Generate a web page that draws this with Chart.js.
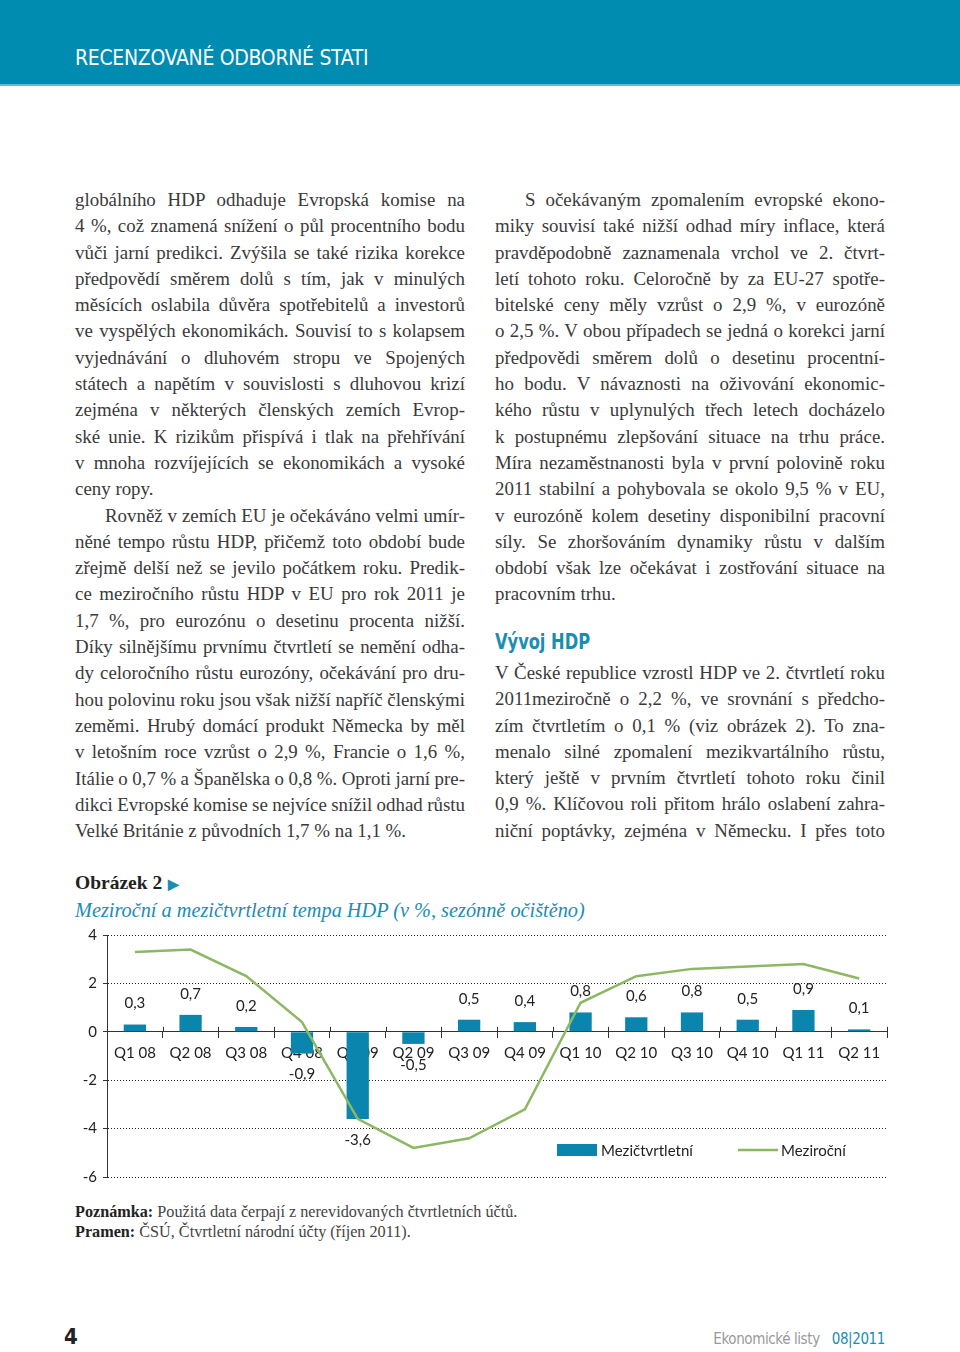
<!DOCTYPE html>
<html lang="cs">
<head>
    <meta charset="UTF-8">
    <title>Ekonomické listy 08|2011 - Obrázek 2</title>
    <script src="https://cdn.jsdelivr.net/npm/chart.js"></script>
    <style>
        html, body { margin: 0; padding: 0; background: #fff; }
        body { width: 960px; height: 1352px; position: relative; overflow: hidden; }
        .band { position: absolute; left: 0; top: 0; width: 960px; height: 84px; background: #008bb1; border-bottom: 2px solid #63bcd6; }
        .band span { position: absolute; left: 75px; top: 46px; color: #fff; font-family: "DejaVu Sans Condensed", sans-serif; font-size: 21px; letter-spacing: -0.3px; }
        .col { position: absolute; width: 390px; font-family: "Liberation Serif", serif; font-size: 18.9px; line-height: 26.29px; color: #3a3a3a; }
        .ln { white-space: nowrap; text-align: justify; text-align-last: justify; overflow: visible; }
        .ln.last { text-align-last: left; }
        .ln.ind { padding-left: 30px; }
        h2 { position: absolute; left: 495px; top: 629px; margin: 0; font-family: "DejaVu Sans Condensed", sans-serif; font-weight: bold; font-size: 22px; color: #1a8db3; transform: scaleX(0.82); transform-origin: left center; }
        .fig-title { position: absolute; left: 75px; top: 872px; font-family: "Liberation Serif", serif; font-weight: bold; font-size: 19.5px; color: #222; }
        .fig-title i { color: #1a8db3; font-style: normal; font-size: 14px; margin-left: 6px; }
        .fig-sub { position: absolute; left: 75px; top: 899px; font-family: "Liberation Serif", serif; font-style: italic; font-size: 20.3px; color: #1a8db3; }
        #chart { position: absolute; left: 70px; top: 920px; }
        .note { position: absolute; left: 75px; top: 1202px; font-family: "Liberation Serif", serif; font-size: 16.2px; line-height: 20px; color: #444; }
        .note b { color: #222; }
        .pg { position: absolute; left: 64px; top: 1324px; font-family: "DejaVu Sans Condensed", sans-serif; font-weight: bold; font-size: 22px; color: #222; }
        .foot { position: absolute; right: 75px; top: 1330px; font-family: "DejaVu Sans Condensed", sans-serif; font-size: 15px; color: #999; letter-spacing: -0.4px; }
        .foot span { color: #1a8db3; margin-left: 12px; }
    </style>
</head>
<body>
    <!-- Záhlaví -->
    <div class="band"><span>RECENZOVANÉ ODBORNÉ STATI</span></div>

    <!-- Levý sloupec -->
    <div class="col" style="left:75px; top:187px;">
        <div class="ln">globálního HDP odhaduje Evropská komise na</div>
        <div class="ln">4 %, což znamená snížení o půl procentního bodu</div>
        <div class="ln">vůči jarní predikci. Zvýšila se také rizika korekce</div>
        <div class="ln">předpovědí směrem dolů s tím, jak v minulých</div>
        <div class="ln">měsících oslabila důvěra spotřebitelů a investorů</div>
        <div class="ln">ve vyspělých ekonomikách. Souvisí to s kolapsem</div>
        <div class="ln">vyjednávání o dluhovém stropu ve Spojených</div>
        <div class="ln">státech a napětím v souvislosti s dluhovou krizí</div>
        <div class="ln">zejména v některých členských zemích Evrop-</div>
        <div class="ln">ské unie. K rizikům přispívá i tlak na přehřívání</div>
        <div class="ln">v mnoha rozvíjejících se ekonomikách a vysoké</div>
        <div class="ln last">ceny ropy.</div>
        <div class="ln ind">Rovněž v zemích EU je očekáváno velmi umír-</div>
        <div class="ln">něné tempo růstu HDP, přičemž toto období bude</div>
        <div class="ln">zřejmě delší než se jevilo počátkem roku. Predik-</div>
        <div class="ln">ce meziročního růstu HDP v EU pro rok 2011 je</div>
        <div class="ln">1,7 %, pro eurozónu o desetinu procenta nižší.</div>
        <div class="ln">Díky silnějšímu prvnímu čtvrtletí se nemění odha-</div>
        <div class="ln">dy celoročního růstu eurozóny, očekávání pro dru-</div>
        <div class="ln">hou polovinu roku jsou však nižší napříč členskými</div>
        <div class="ln">zeměmi. Hrubý domácí produkt Německa by měl</div>
        <div class="ln">v letošním roce vzrůst o 2,9 %, Francie o 1,6 %,</div>
        <div class="ln">Itálie o 0,7 % a Španělska o 0,8 %. Oproti jarní pre-</div>
        <div class="ln">dikci Evropské komise se nejvíce snížil odhad růstu</div>
        <div class="ln last">Velké Británie z původních 1,7 % na 1,1 %.</div>
    </div>

    <!-- Pravý sloupec -->
    <div class="col" style="left:495px; top:187px;">
        <div class="ln ind">S očekávaným zpomalením evropské ekono-</div>
        <div class="ln">miky souvisí také nižší odhad míry inflace, která</div>
        <div class="ln">pravděpodobně zaznamenala vrchol ve 2. čtvrt-</div>
        <div class="ln">letí tohoto roku. Celoročně by za EU-27 spotře-</div>
        <div class="ln">bitelské ceny měly vzrůst o 2,9 %, v eurozóně</div>
        <div class="ln">o 2,5 %. V obou případech se jedná o korekci jarní</div>
        <div class="ln">předpovědi směrem dolů o desetinu procentní-</div>
        <div class="ln">ho bodu. V návaznosti na oživování ekonomic-</div>
        <div class="ln">kého růstu v uplynulých třech letech docházelo</div>
        <div class="ln">k postupnému zlepšování situace na trhu práce.</div>
        <div class="ln">Míra nezaměstnanosti byla v první polovině roku</div>
        <div class="ln">2011 stabilní a pohybovala se okolo 9,5 % v EU,</div>
        <div class="ln">v eurozóně kolem desetiny disponibilní pracovní</div>
        <div class="ln">síly. Se zhoršováním dynamiky růstu v dalším</div>
        <div class="ln">období však lze očekávat i zostřování situace na</div>
        <div class="ln last">pracovním trhu.</div>
    </div>

    <h2>Vývoj HDP</h2>

    <div class="col" style="left:495px; top:660px;">
        <div class="ln">V České republice vzrostl HDP ve 2. čtvrtletí roku</div>
        <div class="ln">2011meziročně o 2,2 %, ve srovnání s předcho-</div>
        <div class="ln">zím čtvrtletím o 0,1 % (viz obrázek 2). To zna-</div>
        <div class="ln">menalo silné zpomalení mezikvartálního růstu,</div>
        <div class="ln">který ještě v prvním čtvrtletí tohoto roku činil</div>
        <div class="ln">0,9 %. Klíčovou roli přitom hrálo oslabení zahra-</div>
        <div class="ln">niční poptávky, zejména v Německu. I přes toto</div>
    </div>

    <!-- Obrázek 2 -->
    <div class="fig-title">Obrázek 2<i>&#9654;</i></div>
    <div class="fig-sub">Meziroční a mezičtvrtletní tempa HDP (v %, sezónně očištěno)</div>
    <canvas id="chart" width="830" height="272"></canvas>

    <div class="note">
        <b>Poznámka:</b> Použitá data čerpají z nerevidovaných čtvrtletních účtů.<br>
        <b>Pramen:</b> ČSÚ, Čtvrtletní národní účty (říjen 2011).
    </div>

    <div class="pg">4</div>
    <div class="foot">Ekonomické listy<span>08|2011</span></div>

    <script>
        // Data
        const quarters = ['Q1 08', 'Q2 08', 'Q3 08', 'Q4 08', 'Q1 09', 'Q2 09', 'Q3 09',
                          'Q4 09', 'Q1 10', 'Q2 10', 'Q3 10', 'Q4 10', 'Q1 11', 'Q2 11'];
        const mezictvrtletni = [0.3, 0.7, 0.2, -0.9, -3.6, -0.5, 0.5, 0.4, 0.8, 0.6, 0.8, 0.5, 0.9, 0.1];
        const mezirocni = [3.3, 3.4, 2.3, 0.4, -3.6, -4.8, -4.4, -3.2, 1.2, 2.3, 2.6, 2.7, 2.8, 2.2];
        const yTicks = [4, 2, 0, -2, -4, -6];
        const seriesNames = ['Mezičtvrtletní', 'Meziroční'];

        // zúžení řádků, které by přetekly šířku sloupce
        document.querySelectorAll('.ln').forEach(el => {
            const over = el.scrollWidth - el.clientWidth;
            if (over > 0) {
                const spaces = (el.textContent.match(/ /g) || []).length || 1;
                el.style.wordSpacing = (-over / spaces - 0.2) + 'px';
            }
        });

        const fmt = v => v.toFixed(1).replace('.', ',');
        const chartFont = '"Lato", "Open Sans", sans-serif';

        // Popisky hodnot nad/pod sloupci
        const barLabels = {
            id: 'barLabels',
            afterDatasetsDraw(chart) {
                const ctx = chart.ctx;
                const meta = chart.getDatasetMeta(0);
                ctx.save();
                ctx.font = '15px ' + chartFont;
                ctx.fillStyle = '#222';
                ctx.textAlign = 'center';
                ctx.textBaseline = 'middle';
                meta.data.forEach((bar, i) => {
                    const v = chart.data.datasets[0].data[i];
                    const y = v >= 0 ? bar.y - 21 : bar.y + 21;
                    ctx.fillText(fmt(v), bar.x, y);
                });
                ctx.restore();
            }
        };

        // Značky osy x procházející nulovou linií + legenda uvnitř grafu
        const extras = {
            id: 'extras',
            afterDraw(chart) {
                const ctx = chart.ctx;
                const xs = chart.scales.x;
                const y0 = chart.scales.y.getPixelForValue(0);
                const a = chart.chartArea;
                ctx.save();
                ctx.strokeStyle = '#333';
                ctx.lineWidth = 1;
                for (let i = 0; i <= quarters.length; i++) {
                    const x = Math.round(xs.getPixelForValue(i - 0.5)) + 0.5;
                    ctx.beginPath();
                    ctx.moveTo(x, y0 - 5);
                    ctx.lineTo(x, y0);
                    ctx.stroke();
                }

                // legenda
                const ly = a.bottom - 27;
                const ds = chart.data.datasets;
                ctx.font = '15px ' + chartFont;
                ctx.fillStyle = ds[0].backgroundColor;
                ctx.fillRect(a.left + 450, ly - 6, 40, 12);
                ctx.strokeStyle = ds[1].borderColor;
                ctx.lineWidth = 2.5;
                ctx.beginPath();
                ctx.moveTo(a.left + 631, ly);
                ctx.lineTo(a.left + 671, ly);
                ctx.stroke();
                ctx.fillStyle = '#222';
                ctx.textBaseline = 'middle';
                ctx.fillText(ds[0].label, a.left + 494, ly + 1);
                ctx.fillText(ds[1].label, a.left + 674, ly + 1);
                ctx.restore();
            }
        };

        new Chart(document.getElementById('chart'), {
            data: {
                labels: quarters,
                datasets: [{
                    type: 'bar',
                    label: seriesNames[0],
                    data: mezictvrtletni,
                    backgroundColor: '#0a85ad',
                    barPercentage: 0.4,
                    categoryPercentage: 1.0,
                    order: 1
                }, {
                    type: 'line',
                    label: seriesNames[1],
                    data: mezirocni,
                    borderColor: '#8cb864',
                    borderWidth: 2.5,
                    pointRadius: 0,
                    tension: 0,
                    order: 0
                }]
            },
            options: {
                responsive: false,
                animation: false,
                layout: { padding: { top: 13, right: 13, bottom: 14, left: 0 } },
                plugins: {
                    legend: { display: false },
                    tooltip: { enabled: false }
                },
                scales: {
                    x: {
                        position: { y: 0 },
                        offset: true,
                        grid: { offset: true, drawOnChartArea: false, tickLength: 6, color: '#333', tickColor: '#333' },
                        border: { display: true, color: '#333', width: 1 },
                        ticks: { color: '#222', font: { family: chartFont, size: 15 }, padding: 6, autoSkip: false, maxRotation: 0 }
                    },
                    y: {
                        min: Math.min(...yTicks),
                        max: Math.max(...yTicks),
                        afterBuildTicks: s => { s.ticks = yTicks.map(v => ({ value: v })); },
                        afterFit: s => { s.width = 37; },
                        grid: { color: '#222', lineWidth: 1, tickLength: 4, tickColor: '#333', tickBorderDash: [] },
                        border: { display: true, color: '#333', width: 1, dash: [1, 2] },
                        ticks: { color: '#222', font: { family: chartFont, size: 15 }, padding: 6 }
                    }
                }
            },
            plugins: [barLabels, extras]
        });
    </script>
</body>
</html>
